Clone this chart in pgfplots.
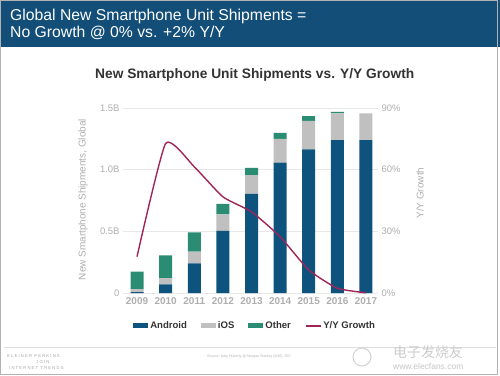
\documentclass[border=0pt]{standalone}
\usepackage{pgfplots}
\pgfplotsset{compat=1.18}
\usepackage{fontspec}
\setmainfont{Liberation Sans}
\newfontfamily\cjk{Noto Sans CJK SC}
\definecolor{hdr}{RGB}{18,78,120}
\definecolor{android}{RGB}{14,83,126}
\definecolor{ios}{RGB}{192,192,192}
\definecolor{other}{RGB}{42,140,114}
\definecolor{yy}{RGB}{160,36,88}
\definecolor{ticktxt}{RGB}{175,175,175}
\definecolor{titletxt}{RGB}{51,51,51}
\definecolor{gridc}{RGB}{232,232,232}
\begin{document}
\begin{tikzpicture}[x=1bp,y=1bp]
\fill[white] (0,0) rectangle (500,375);
\fill[hdr] (0,328) rectangle (500,375);
\node[anchor=base west,text=white,inner sep=0pt,font=\fontsize{15.8}{18}\selectfont] at (10,355) {Global New Smartphone Unit Shipments =};
\node[anchor=base west,text=white,inner sep=0pt,font=\fontsize{15.8}{18}\selectfont] at (10,338) {No Growth @ 0\% vs. +2\% Y/Y};
\node[anchor=base west,text=titletxt,inner sep=0pt,font=\fontsize{13.8}{16}\selectfont\bfseries] at (95,297) {New Smartphone Unit Shipments vs. Y/Y Growth};
% footer
\draw[gray!25,line width=0.6pt] (4,28) -- (496,28);
\node[anchor=base west,text=gray!70,inner sep=0pt,font=\fontsize{4.2}{5}\selectfont] at (7,18) {K L E I N E R\ \ P E R K I N S};
\node[anchor=base,text=gray!70,inner sep=0pt,font=\fontsize{4.2}{5}\selectfont] at (43,12) {J O I N};
\node[anchor=base west,text=gray!70,inner sep=0pt,font=\fontsize{4.2}{5}\selectfont] at (9,6) {I N T E R N E T\ \ T R E N D S};
\node[anchor=base,text=gray!60,inner sep=0pt,font=\fontsize{3.6}{4}\selectfont] at (249,18) {Source: Katy Huberty @ Morgan Stanley (6/16), IDC};
\draw[gray!35,line width=1pt] (362,18) circle (9);
\node[anchor=base west,text=gray!40,inner sep=0pt,font=\cjk\fontsize{14}{16}\selectfont] at (393,18) {电子发烧友};
\node[anchor=base west,text=gray!45,inner sep=0pt,font=\fontsize{8.5}{10}\selectfont] at (393,6) {www.elecfans.com};
\draw[gray!60,line width=1.2pt] (0.6,0.6) rectangle (497.5,374.4);
\begin{axis}[
  at={(123bp,82bp)}, anchor=south west,
  scale only axis, width=255bp, height=185bp,
  xmin=-0.49, xmax=8.42, ymin=0, ymax=1.5,
  ybar stacked, bar width=13bp,
  xtick=data,
  xticklabels={2009,2010,2011,2012,2013,2014,2015,2016,2017},
  ytick={0,0.5,1.0,1.5},
  yticklabels={0,0.5B,1.0B,1.5B},
  /pgf/number format/assume math mode=true,
  ymajorgrids, grid style={gridc,line width=0.6pt},
  axis line style={draw=none}, major tick style={draw=none},
  ticklabel style={text=ticktxt},
  xticklabel style={font=\fontsize{10}{12}\selectfont\bfseries, yshift=-1bp},
  yticklabel style={font=\fontsize{9.5}{11}\selectfont},
  ylabel={New Smartphone Shipments, Global},
  ylabel style={font=\fontsize{10}{12}\selectfont, text=ticktxt, at={(axis description cs:-0.157,0.505)}, anchor=center},
  legend columns=4,
  legend style={draw=none, fill=none, at={(axis description cs:0.518,-0.178)}, anchor=center,
     font=\fontsize{9.6}{11}\selectfont\bfseries, text=titletxt,
     /tikz/every even column/.append style={column sep=12bp}},
  legend image code/.code={\fill[#1,draw=none] (0bp,-2.5bp) rectangle (15bp,2.5bp);},
]
\addplot[fill=android,draw=none] coordinates {(0,0.007) (1,0.070) (2,0.240) (3,0.503) (4,0.803) (5,1.057) (6,1.165) (7,1.240) (8,1.240)};
\addplot[fill=ios,draw=none] coordinates {(0,0.025) (1,0.050) (2,0.095) (3,0.135) (4,0.152) (5,0.192) (6,0.230) (7,0.217) (8,0.217)};
\addplot[fill=other,draw=none] coordinates {(0,0.141) (1,0.186) (2,0.157) (3,0.085) (4,0.060) (5,0.049) (6,0.040) (7,0.011) (8,0.0)};
\addlegendimage{legend image code/.code={\draw[yy,line width=1.4pt] (0bp,0bp) -- (15bp,0bp);}}
\legend{Android,iOS,Other,Y/Y Growth}
\end{axis}
\begin{axis}[
  at={(123bp,82bp)}, anchor=south west,
  scale only axis, width=255bp, height=185bp,
  xmin=-0.49, xmax=8.42, ymin=0, ymax=90,
  axis y line*=right, axis x line=none,
  ytick={0,30,60,90},
  yticklabels={0\%,30\%,60\%,90\%},
  /pgf/number format/assume math mode=true,
  axis line style={draw=none}, major tick style={draw=none},
  yticklabel style={text=ticktxt, font=\fontsize{9.5}{11}\selectfont},
  ylabel={Y/Y Growth},
  ylabel style={font=\fontsize{10}{12}\selectfont, text=ticktxt, at={(axis description cs:1.165,0.54)}, anchor=center},
]
\addplot[color=yy, line width=1.4pt, smooth, tension=0.3] coordinates {(0,17.7) (1,72.8) (2,61.4) (3,46.8) (4,39.5) (5,27.4) (6,11.2) (7,2.3) (8,0.1)};
\end{axis}
\end{tikzpicture}
\end{document}
